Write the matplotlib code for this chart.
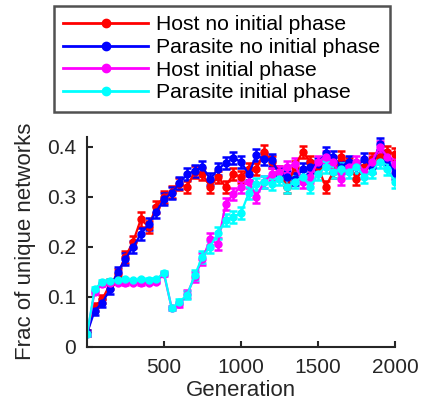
import matplotlib
matplotlib.use("Agg")
import matplotlib.pyplot as plt
from matplotlib.lines import Line2D

plt.rcParams['font.family'] = ['Liberation Sans', 'DejaVu Sans']

generation = [1, 50, 100, 150, 200, 250, 300, 350, 400, 450, 500, 550, 600, 650, 700,
              750, 800, 850, 900, 950, 1000, 1050, 1100, 1150, 1200, 1250, 1300, 1350,
              1400, 1450, 1500, 1550, 1600, 1650, 1700, 1750, 1800, 1850, 1900, 1950, 2000]

host_no_init = [0.027, 0.080, 0.095, 0.125, 0.145, 0.180, 0.210, 0.255, 0.240, 0.280, 0.300,
                0.310, 0.325, 0.320, 0.350, 0.345, 0.320, 0.340, 0.320, 0.345, 0.340,
                0.355, 0.355, 0.390, 0.370, 0.350, 0.320, 0.360, 0.390, 0.370, 0.360,
                0.320, 0.350, 0.380, 0.365, 0.335, 0.360, 0.375, 0.380, 0.390, 0.385]
host_no_init_err = [0.006, 0.008, 0.008, 0.010, 0.010, 0.012, 0.012, 0.015, 0.012, 0.012, 0.012,
                    0.012, 0.012, 0.012, 0.012, 0.012, 0.012, 0.012, 0.012, 0.012, 0.012,
                    0.012, 0.012, 0.013, 0.012, 0.012, 0.012, 0.012, 0.012, 0.012, 0.012,
                    0.012, 0.012, 0.012, 0.012, 0.012, 0.012, 0.012, 0.012, 0.012, 0.012]

para_no_init = [0.027, 0.072, 0.088, 0.115, 0.150, 0.175, 0.200, 0.225, 0.245, 0.270, 0.295,
                0.307, 0.327, 0.345, 0.352, 0.360, 0.335, 0.355, 0.367, 0.377, 0.370,
                0.345, 0.383, 0.375, 0.373, 0.345, 0.340, 0.335, 0.355, 0.360, 0.365,
                0.387, 0.380, 0.360, 0.370, 0.360, 0.375, 0.360, 0.405, 0.375, 0.347]
para_no_init_err = [0.006, 0.008, 0.008, 0.010, 0.010, 0.012, 0.012, 0.012, 0.012, 0.012, 0.012,
                    0.012, 0.012, 0.012, 0.012, 0.012, 0.012, 0.012, 0.012, 0.012, 0.012,
                    0.012, 0.012, 0.012, 0.012, 0.012, 0.012, 0.012, 0.012, 0.012, 0.012,
                    0.012, 0.012, 0.012, 0.012, 0.012, 0.012, 0.012, 0.012, 0.012, 0.012]

host_init = [0.025, 0.110, 0.125, 0.128, 0.128, 0.127, 0.128, 0.127, 0.128, 0.130, 0.145,
             0.078, 0.085, 0.105, 0.140, 0.175, 0.215, 0.205, 0.285, 0.305, 0.320,
             0.330, 0.300, 0.330, 0.345, 0.350, 0.360, 0.365, 0.330, 0.340, 0.370,
             0.380, 0.370, 0.335, 0.360, 0.370, 0.350, 0.370, 0.400, 0.380, 0.365]
host_init_err = [0.004, 0.004, 0.003, 0.003, 0.003, 0.003, 0.003, 0.003, 0.003, 0.003, 0.004,
                 0.004, 0.005, 0.008, 0.010, 0.012, 0.012, 0.012, 0.012, 0.012, 0.012,
                 0.012, 0.012, 0.012, 0.012, 0.012, 0.012, 0.012, 0.012, 0.012, 0.012,
                 0.012, 0.012, 0.012, 0.012, 0.012, 0.012, 0.012, 0.012, 0.012, 0.012]

para_init = [0.025, 0.115, 0.130, 0.132, 0.133, 0.135, 0.133, 0.135, 0.134, 0.135, 0.148,
             0.077, 0.090, 0.103, 0.143, 0.180, 0.200, 0.227, 0.253, 0.260, 0.267,
             0.307, 0.325, 0.330, 0.325, 0.335, 0.320, 0.330, 0.340, 0.320, 0.345,
             0.360, 0.350, 0.355, 0.350, 0.360, 0.340, 0.350, 0.370, 0.355, 0.330]
para_init_err = [0.004, 0.004, 0.003, 0.003, 0.003, 0.003, 0.003, 0.003, 0.003, 0.003, 0.004,
                 0.004, 0.005, 0.008, 0.010, 0.012, 0.012, 0.012, 0.012, 0.012, 0.012,
                 0.012, 0.012, 0.012, 0.012, 0.012, 0.012, 0.012, 0.012, 0.012, 0.012,
                 0.012, 0.012, 0.012, 0.012, 0.012, 0.012, 0.012, 0.012, 0.012, 0.012]

labels = ['Host no initial phase', 'Parasite no initial phase',
          'Host initial phase', 'Parasite initial phase']
colors = ['#ff0000', '#0000ff', '#ff00ff', '#00ffff']
x_ticks = [500, 1000, 1500, 2000]
y_ticks = [0, 0.1, 0.2, 0.3, 0.4]

fig = plt.figure(figsize=(4.22, 4.11), dpi=100)
ax = fig.add_axes([0.206, 0.1564, 0.730, 0.511])

series = [(host_no_init, host_no_init_err), (para_no_init, para_no_init_err),
          (host_init, host_init_err), (para_init, para_init_err)]
handles = []
for (vals, errs), c, lab in zip(series, colors, labels):
    ax.errorbar(generation, vals, yerr=errs, color=c, marker='o', markersize=5,
                markerfacecolor=c, markeredgecolor=c, linewidth=1.6,
                elinewidth=1.8, capsize=3.2, capthick=1.8)
    handles.append(Line2D([], [], color=c, marker='o', markersize=6,
                          markerfacecolor=c, markeredgecolor=c, linewidth=2))

ax.set_xlim(0, 2000)
ax.set_ylim(0, 0.42)
ax.set_xticks(x_ticks)
ax.set_yticks(y_ticks)
ax.set_yticklabels(['0', '0.1', '0.2', '0.3', '0.4'])
for s in ['top', 'right']:
    ax.spines[s].set_visible(False)
for s in ['left', 'bottom']:
    ax.spines[s].set_color('#262626')
    ax.spines[s].set_linewidth(1.5)
ax.tick_params(direction='in', length=4, width=1.5, color='#262626',
               labelsize=15, labelcolor='#262626', pad=8)
ax.set_xlabel('Generation', fontsize=16, color='#262626', labelpad=2)
ax.set_ylabel('Frac of unique networks', fontsize=16, color='#262626', labelpad=8)

leg = fig.legend(handles=handles, labels=labels, loc='upper left',
                 bbox_to_anchor=(54 / 422, 1 - 6 / 411), bbox_transform=fig.transFigure,
                 fontsize=15.2, handlelength=4.0, handletextpad=0.4,
                 labelspacing=0.17, borderpad=0.45, frameon=True, fancybox=False,
                 borderaxespad=0)
leg.get_frame().set_edgecolor('#262626')
leg.get_frame().set_linewidth(1.8)

fig.savefig('out.png', dpi=100)
